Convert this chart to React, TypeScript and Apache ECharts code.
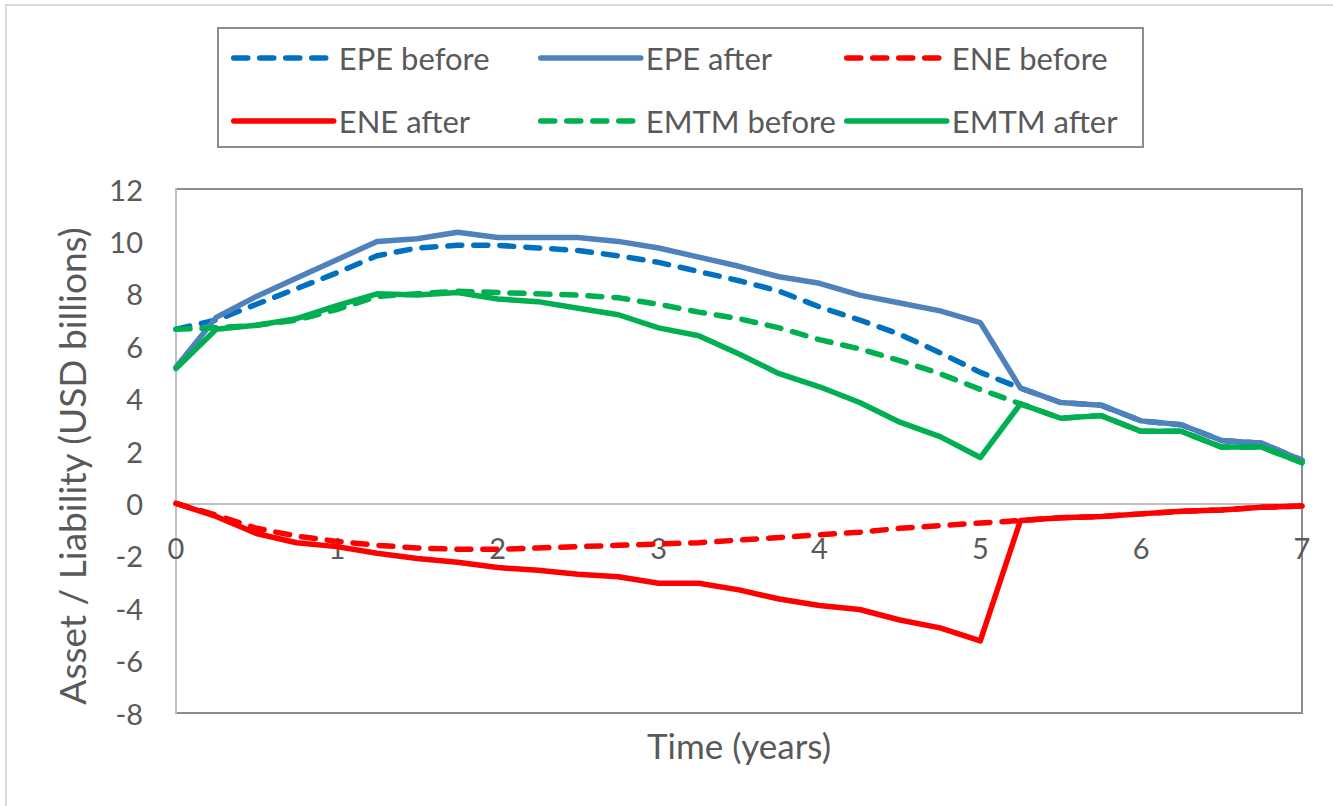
import React, { useEffect, useRef } from "react";
import * as echarts from "echarts";

// Time grid in years (quarterly)
const years = [
  0, 0.25, 0.5, 0.75, 1, 1.25, 1.5, 1.75, 2, 2.25, 2.5, 2.75, 3, 3.25, 3.5,
  3.75, 4, 4.25, 4.5, 4.75, 5, 5.25, 5.5, 5.75, 6, 6.25, 6.5, 6.75, 7,
];

// Exposure profiles, USD billions
const epeBefore = [
  6.65, 7.0, 7.6, 8.2, 8.8, 9.45, 9.75, 9.85, 9.85, 9.75, 9.65, 9.45, 9.2,
  8.85, 8.5, 8.1, 7.5, 7.0, 6.45, 5.75, 5.0, 4.4, 3.85, 3.75, 3.15, 3.0, 2.4,
  2.3, 1.65,
];
const epeAfter = [
  5.2, 7.1, 7.9, 8.6, 9.3, 10.0, 10.1, 10.35, 10.15, 10.15, 10.15, 10.0, 9.75,
  9.4, 9.05, 8.65, 8.4, 7.95, 7.65, 7.35, 6.9, 4.4, 3.85, 3.75, 3.15, 3.0, 2.4,
  2.3, 1.65,
];
const eneBefore = [
  0, -0.45, -0.95, -1.25, -1.45, -1.6, -1.7, -1.75, -1.75, -1.7, -1.65, -1.6,
  -1.55, -1.5, -1.4, -1.3, -1.2, -1.1, -0.95, -0.85, -0.75, -0.65, -0.55, -0.5,
  -0.4, -0.3, -0.25, -0.15, -0.1,
];
const eneAfter = [
  0, -0.5, -1.15, -1.5, -1.65, -1.9, -2.1, -2.25, -2.45, -2.55, -2.7, -2.8,
  -3.05, -3.05, -3.3, -3.65, -3.9, -4.05, -4.45, -4.75, -5.25, -0.65, -0.55,
  -0.5, -0.4, -0.3, -0.25, -0.15, -0.1,
];
const emtmBefore = [
  6.65, 6.7, 6.8, 7.0, 7.4, 7.9, 8.0, 8.1, 8.05, 8.0, 7.95, 7.85, 7.6, 7.3,
  7.05, 6.7, 6.25, 5.9, 5.45, 4.95, 4.35, 3.8, 3.25, 3.35, 2.75, 2.75, 2.15,
  2.15, 1.55,
];
const emtmAfter = [
  5.15, 6.65, 6.8, 7.05, 7.55, 8.0, 7.95, 8.05, 7.8, 7.7, 7.45, 7.2, 6.7, 6.4,
  5.7, 4.95, 4.45, 3.85, 3.1, 2.55, 1.75, 3.8, 3.25, 3.35, 2.75, 2.75, 2.15,
  2.15, 1.55,
];

const seriesNames = [
  "EPE before",
  "EPE after",
  "ENE before",
  "ENE after",
  "EMTM before",
  "EMTM after",
];

const FONT = "Lato, 'Open Sans', sans-serif";
const TEXT = "#595959";
const LINE_W = 5.5;
const DASH = [14, 12];

// Plot frame and value range
const CHART_H = 806;
const GRID_TOP = 189;
const GRID_BOTTOM = 93;
const Y_MIN = -8;
const Y_MAX = 12;
// The time axis runs along the zero line of the value axis
const xAxisOffset =
  -((0 - Y_MIN) / (Y_MAX - Y_MIN)) * (CHART_H - GRID_TOP - GRID_BOTTOM);

const pairs = (vals: number[]) => years.map((t, i) => [t, vals[i]]);

function makeSeries(name: string, vals: number[], color: string, dash: boolean) {
  return {
    name,
    type: "line",
    data: pairs(vals),
    symbol: "none",
    showSymbol: false,
    lineStyle: {
      color,
      width: LINE_W,
      type: dash ? DASH : "solid",
      cap: "round",
      join: "round",
    },
    itemStyle: { color },
  };
}

function legendColumn(names: string[], left: number) {
  return {
    orient: "vertical",
    left,
    top: 38,
    padding: 0,
    data: names,
    itemWidth: 100,
    itemHeight: 40,
    itemGap: 23,
    itemStyle: { opacity: 0 },
    lineStyle: { width: LINE_W, cap: "round" },
    textStyle: {
      color: TEXT,
      fontFamily: FONT,
      fontSize: 31,
      lineHeight: 40,
    },
    selectedMode: false,
  };
}

export default function App() {
  const ref = useRef<HTMLDivElement>(null);

  useEffect(() => {
    if (!ref.current) return;
    const chart = echarts.init(ref.current, undefined, { renderer: "svg" });
    chart.setOption({
      animation: false,
      backgroundColor: "#ffffff",
      graphic: [
        {
          type: "rect",
          shape: { x: 6, y: 5, width: 1340, height: 820 },
          style: { fill: "none", stroke: "#d9d9d9", lineWidth: 2 },
          silent: true,
        },
        {
          type: "rect",
          shape: { x: 218, y: 28, width: 925, height: 119 },
          style: { fill: "none", stroke: "#8c8c8c", lineWidth: 2 },
          silent: true,
        },
      ],
      legend: [
        legendColumn([seriesNames[0], seriesNames[3]], 231),
        legendColumn([seriesNames[1], seriesNames[4]], 538),
        legendColumn([seriesNames[2], seriesNames[5]], 844),
      ],
      grid: {
        left: 176,
        top: GRID_TOP,
        right: 31,
        bottom: GRID_BOTTOM,
        show: true,
        borderColor: "#8c8c8c",
        borderWidth: 2,
        outerBoundsMode: "none",
        containLabel: false,
      },
      xAxis: {
        type: "value",
        min: 0,
        max: 7,
        interval: 1,
        position: "bottom",
        offset: xAxisOffset,
        name: "Time (years)",
        nameLocation: "middle",
        nameGap: 224,
        nameTextStyle: { color: TEXT, fontFamily: FONT, fontSize: 35 },
        axisLine: {
          show: true,
          onZero: false,
          lineStyle: { color: "#c0c0c0", width: 2 },
        },
        axisTick: { show: false },
        splitLine: { show: false },
        axisLabel: {
          color: TEXT,
          fontFamily: FONT,
          fontSize: 29,
          margin: 30,
          lineHeight: 29,
        },
      },
      yAxis: {
        type: "value",
        min: Y_MIN,
        max: Y_MAX,
        interval: 2,
        name: "Asset / Liability (USD billions)",
        nameLocation: "middle",
        nameRotate: 90,
        nameGap: 86,
        nameTextStyle: {
          color: TEXT,
          fontFamily: FONT,
          fontSize: 37,
          padding: [0, 30, 0, 0],
        },
        axisLine: {
          show: true,
          onZero: false,
          lineStyle: { color: "#c0c0c0", width: 2 },
        },
        axisTick: { show: false },
        splitLine: { show: false },
        axisLabel: {
          color: TEXT,
          fontFamily: FONT,
          fontSize: 29,
          margin: 33,
        },
      },
      series: [
        makeSeries(seriesNames[0], epeBefore, "#0070C0", true),
        makeSeries(seriesNames[1], epeAfter, "#4F81BD", false),
        makeSeries(seriesNames[2], eneBefore, "#FF0000", true),
        makeSeries(seriesNames[3], eneAfter, "#FF0000", false),
        makeSeries(seriesNames[4], emtmBefore, "#00B050", true),
        makeSeries(seriesNames[5], emtmAfter, "#00B050", false),
      ],
    });
    return () => chart.dispose();
  }, []);

  return (
    <div
      ref={ref}
      style={{ position: "absolute", left: 0, top: 0, width: 1333, height: 806 }}
    />
  );
}
